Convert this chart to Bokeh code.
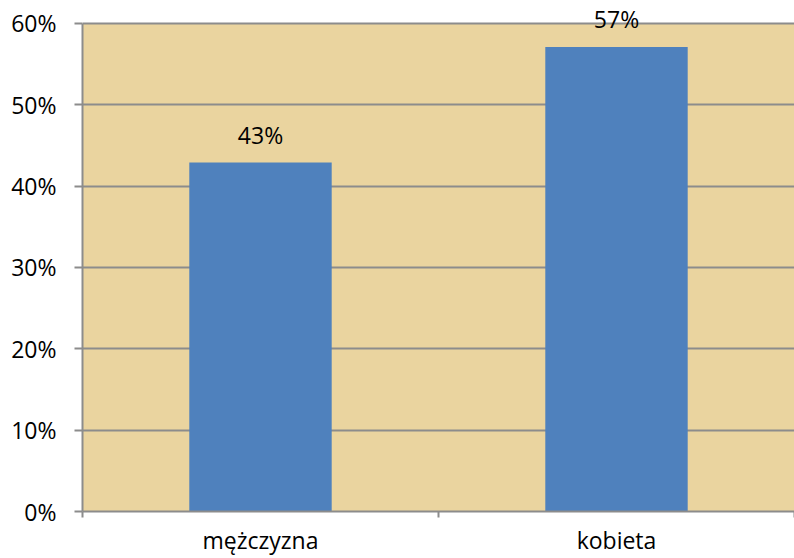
from bokeh.plotting import figure
from bokeh.models import ColumnDataSource, FixedTicker, NumeralTickFormatter, LabelSet, Range1d
from bokeh.core.properties import value
from bokeh.embed import file_html
from bokeh.resources import INLINE

categories = ["mężczyzna", "kobieta"]
values = [0.429, 0.571]
value_labels = ["43%", "57%"]
y_ticks = [0, 0.1, 0.2, 0.3, 0.4, 0.5, 0.6]
y_max = 0.6

positions = [i + 0.5 for i in range(len(categories))]
source = ColumnDataSource(dict(x=positions, top=values, label=value_labels))

FONT = "Open Sans"
FS = "23px"
GRAY = "#8C8C8C"
TAN = "#EAD49F"

# frame reaches the top edge so the value labels above the top gridline are not clipped
y_top = y_max * 512 / 489

p = figure(width=794, height=558, output_backend="svg", toolbar_location=None,
           x_range=Range1d(0, len(categories)), y_range=Range1d(0, y_top),
           min_border_left=82, min_border_right=0, min_border_top=0, min_border_bottom=46)

p.background_fill_color = "white"
p.border_fill_color = "white"
p.outline_line_color = None

# plot-area background (0 .. 60%)
p.quad(left=[0], right=[len(categories)], bottom=[0], top=[y_max],
       fill_color=TAN, line_color=None, level="underlay")

p.vbar(x="x", top="top", width=0.4, bottom=0, source=source,
       fill_color="#4F81BD", line_color=None)

labels = LabelSet(x="x", y="top", text="label", source=source,
                  text_align="center", text_baseline="alphabetic", y_offset=19,
                  text_font=value(FONT), text_font_size=value(FS), text_color="black")
p.add_layout(labels)

# y axis
p.yaxis.ticker = FixedTicker(ticks=y_ticks)
p.yaxis.bounds = (0, y_max)
p.yaxis.formatter = NumeralTickFormatter(format="0%")
p.yaxis.axis_line_color = GRAY
p.yaxis.axis_line_width = 2
p.yaxis.major_tick_line_color = GRAY
p.yaxis.major_tick_line_width = 2
p.yaxis.major_tick_out = 8
p.yaxis.major_tick_in = 0
p.yaxis.minor_tick_line_color = None
p.yaxis.major_label_standoff = 18
p.yaxis.major_label_text_font = FONT
p.yaxis.major_label_text_font_size = FS
p.yaxis.major_label_text_color = "black"

# x axis
p.xaxis.ticker = FixedTicker(ticks=positions, minor_ticks=list(range(len(categories) + 1)))
p.xaxis.major_label_overrides = {pos: c for pos, c in zip(positions, categories)}
p.xaxis.axis_line_color = GRAY
p.xaxis.axis_line_width = 2
p.xaxis.major_tick_line_color = None
p.xaxis.major_tick_out = 0
p.xaxis.major_tick_in = 0
p.xaxis.minor_tick_line_color = GRAY
p.xaxis.minor_tick_line_width = 2
p.xaxis.minor_tick_out = 6
p.xaxis.minor_tick_in = 0
p.xaxis.major_label_standoff = 6
p.xaxis.major_label_text_font = FONT
p.xaxis.major_label_text_font_size = FS
p.xaxis.major_label_text_line_height = 1.0
p.xaxis.major_label_text_color = "black"

p.xgrid.grid_line_color = None
p.ygrid.ticker = FixedTicker(ticks=y_ticks)
p.ygrid.grid_line_color = GRAY
p.ygrid.grid_line_width = 2

open("out.html", "w").write(file_html(p, INLINE))
